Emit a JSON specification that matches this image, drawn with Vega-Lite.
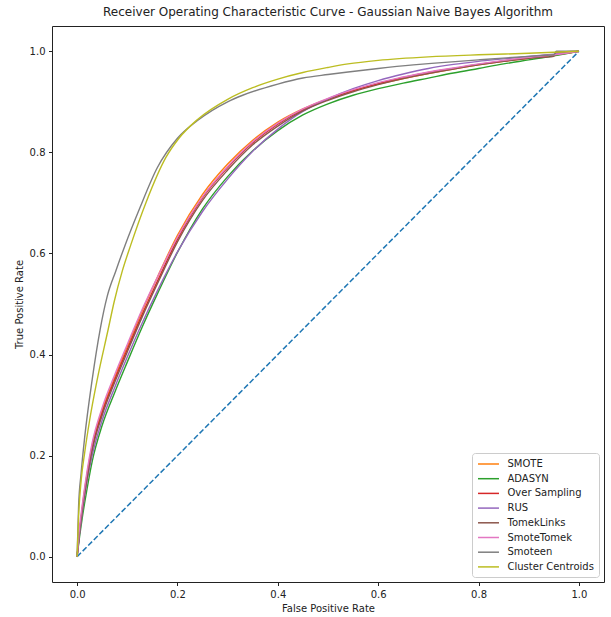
{
  "$schema": "https://vega.github.io/schema/vega-lite/v6.json",
  "autosize": {"type": "none"},
  "padding": {"left": 52, "top": 26, "right": 7, "bottom": 35},
  "width": 552,
  "height": 556,
  "background": "white",
  "config": {
    "font": "DejaVu Sans",
    "view": {"stroke": "#222222", "strokeWidth": 1},
    "axis": {"grid": false, "domain": false, "tickSize": 3.5, "tickColor": "#222222", "labelFontSize": 10, "labelColor": "#222222", "titleFontSize": 10, "titleFontWeight": "normal", "titleColor": "#222222", "labelPadding": 3.5}
  },
  "title": {"text": "Receiver Operating Characteristic Curve - Gaussian Naive Bayes Algorithm", "fontSize": 12, "fontWeight": "normal", "color": "#222222", "offset": 7},
  "layer": [
    {
      "data": {"values": [{"fpr": 0, "tpr": 0}, {"fpr": 1, "tpr": 1}]},
      "mark": {"type": "line", "color": "#1f77b4", "strokeWidth": 1.5, "strokeDash": [5.5, 2.4]},
      "encoding": {
        "x": {"field": "fpr", "type": "quantitative", "scale": {"domain": [-0.05, 1.05], "nice": false, "zero": false}, "axis": {"values": [0, 0.2, 0.4, 0.6, 0.8, 1.0], "format": ".1f", "title": "False Positive Rate", "titlePadding": 4}},
        "y": {"field": "tpr", "type": "quantitative", "scale": {"domain": [-0.05, 1.05], "nice": false, "zero": false}, "axis": {"values": [0, 0.2, 0.4, 0.6, 0.8, 1.0], "format": ".1f", "title": "True Positive Rate", "titlePadding": 5}}
      }
    },
    {
      "data": {"name": "curves"},
      "mark": {"type": "line", "strokeWidth": 1.4, "interpolate": "monotone"},
      "encoding": {
        "x": {"field": "fpr", "type": "quantitative"},
        "y": {"field": "tpr", "type": "quantitative"},
        "order": {"field": "i", "type": "quantitative"},
        "color": {
          "field": "model", "type": "nominal",
          "scale": {"domain": ["SMOTE", "ADASYN", "Over Sampling", "RUS", "TomekLinks", "SmoteTomek", "Smoteen", "Cluster Centroids"], "range": ["#ff7f0e", "#2ca02c", "#d62728", "#9467bd", "#8c564b", "#e377c2", "#7f7f7f", "#bcbd22"]},
          "legend": {"title": null, "orient": "bottom-right", "offset": 5, "padding": 5, "fillColor": "white", "strokeColor": "#cccccc", "cornerRadius": 3, "symbolType": "M-2,0H2", "symbolSize": 110, "symbolOffset": 5.5, "symbolStrokeWidth": 1.5, "labelFontSize": 10, "labelColor": "#222222", "rowPadding": 3.7, "labelOffset": 13}
        }
      }
    }
  ],
  "datasets": {
    "curves": [
      {"model": "SMOTE", "i": 0, "fpr": 0, "tpr": 0},
      {"model": "SMOTE", "i": 1, "fpr": 0.005, "tpr": 0.05},
      {"model": "SMOTE", "i": 2, "fpr": 0.01, "tpr": 0.095},
      {"model": "SMOTE", "i": 3, "fpr": 0.02, "tpr": 0.165},
      {"model": "SMOTE", "i": 4, "fpr": 0.03, "tpr": 0.22},
      {"model": "SMOTE", "i": 5, "fpr": 0.05, "tpr": 0.29},
      {"model": "SMOTE", "i": 6, "fpr": 0.075, "tpr": 0.355},
      {"model": "SMOTE", "i": 7, "fpr": 0.1, "tpr": 0.416},
      {"model": "SMOTE", "i": 8, "fpr": 0.13, "tpr": 0.487},
      {"model": "SMOTE", "i": 9, "fpr": 0.16, "tpr": 0.553},
      {"model": "SMOTE", "i": 10, "fpr": 0.2, "tpr": 0.636},
      {"model": "SMOTE", "i": 11, "fpr": 0.25, "tpr": 0.717},
      {"model": "SMOTE", "i": 12, "fpr": 0.3, "tpr": 0.777},
      {"model": "SMOTE", "i": 13, "fpr": 0.35, "tpr": 0.824},
      {"model": "SMOTE", "i": 14, "fpr": 0.4, "tpr": 0.86},
      {"model": "SMOTE", "i": 15, "fpr": 0.45, "tpr": 0.886},
      {"model": "SMOTE", "i": 16, "fpr": 0.5, "tpr": 0.906},
      {"model": "SMOTE", "i": 17, "fpr": 0.55, "tpr": 0.922},
      {"model": "SMOTE", "i": 18, "fpr": 0.6, "tpr": 0.935},
      {"model": "SMOTE", "i": 19, "fpr": 0.65, "tpr": 0.946},
      {"model": "SMOTE", "i": 20, "fpr": 0.7, "tpr": 0.956},
      {"model": "SMOTE", "i": 21, "fpr": 0.75, "tpr": 0.965},
      {"model": "SMOTE", "i": 22, "fpr": 0.8, "tpr": 0.973},
      {"model": "SMOTE", "i": 23, "fpr": 0.85, "tpr": 0.98},
      {"model": "SMOTE", "i": 24, "fpr": 0.9, "tpr": 0.986},
      {"model": "SMOTE", "i": 25, "fpr": 0.95, "tpr": 0.992},
      {"model": "SMOTE", "i": 26, "fpr": 1, "tpr": 1},

      {"model": "ADASYN", "i": 0, "fpr": 0, "tpr": 0},
      {"model": "ADASYN", "i": 1, "fpr": 0.005, "tpr": 0.04},
      {"model": "ADASYN", "i": 2, "fpr": 0.01, "tpr": 0.075},
      {"model": "ADASYN", "i": 3, "fpr": 0.02, "tpr": 0.135},
      {"model": "ADASYN", "i": 4, "fpr": 0.03, "tpr": 0.188},
      {"model": "ADASYN", "i": 5, "fpr": 0.05, "tpr": 0.26},
      {"model": "ADASYN", "i": 6, "fpr": 0.075, "tpr": 0.325},
      {"model": "ADASYN", "i": 7, "fpr": 0.1, "tpr": 0.385},
      {"model": "ADASYN", "i": 8, "fpr": 0.13, "tpr": 0.455},
      {"model": "ADASYN", "i": 9, "fpr": 0.16, "tpr": 0.52},
      {"model": "ADASYN", "i": 10, "fpr": 0.2, "tpr": 0.602},
      {"model": "ADASYN", "i": 11, "fpr": 0.25, "tpr": 0.688},
      {"model": "ADASYN", "i": 12, "fpr": 0.3, "tpr": 0.752},
      {"model": "ADASYN", "i": 13, "fpr": 0.35, "tpr": 0.803},
      {"model": "ADASYN", "i": 14, "fpr": 0.4, "tpr": 0.843},
      {"model": "ADASYN", "i": 15, "fpr": 0.45, "tpr": 0.874},
      {"model": "ADASYN", "i": 16, "fpr": 0.5, "tpr": 0.896},
      {"model": "ADASYN", "i": 17, "fpr": 0.55, "tpr": 0.913},
      {"model": "ADASYN", "i": 18, "fpr": 0.6, "tpr": 0.926},
      {"model": "ADASYN", "i": 19, "fpr": 0.65, "tpr": 0.937},
      {"model": "ADASYN", "i": 20, "fpr": 0.7, "tpr": 0.947},
      {"model": "ADASYN", "i": 21, "fpr": 0.75, "tpr": 0.957},
      {"model": "ADASYN", "i": 22, "fpr": 0.8, "tpr": 0.966},
      {"model": "ADASYN", "i": 23, "fpr": 0.85, "tpr": 0.975},
      {"model": "ADASYN", "i": 24, "fpr": 0.9, "tpr": 0.983},
      {"model": "ADASYN", "i": 25, "fpr": 0.95, "tpr": 0.991},
      {"model": "ADASYN", "i": 26, "fpr": 1, "tpr": 1},

      {"model": "Over Sampling", "i": 0, "fpr": 0, "tpr": 0},
      {"model": "Over Sampling", "i": 1, "fpr": 0.005, "tpr": 0.05},
      {"model": "Over Sampling", "i": 2, "fpr": 0.01, "tpr": 0.09},
      {"model": "Over Sampling", "i": 3, "fpr": 0.02, "tpr": 0.16},
      {"model": "Over Sampling", "i": 4, "fpr": 0.03, "tpr": 0.215},
      {"model": "Over Sampling", "i": 5, "fpr": 0.05, "tpr": 0.285},
      {"model": "Over Sampling", "i": 6, "fpr": 0.075, "tpr": 0.35},
      {"model": "Over Sampling", "i": 7, "fpr": 0.1, "tpr": 0.41},
      {"model": "Over Sampling", "i": 8, "fpr": 0.13, "tpr": 0.48},
      {"model": "Over Sampling", "i": 9, "fpr": 0.16, "tpr": 0.545},
      {"model": "Over Sampling", "i": 10, "fpr": 0.2, "tpr": 0.628},
      {"model": "Over Sampling", "i": 11, "fpr": 0.25, "tpr": 0.71},
      {"model": "Over Sampling", "i": 12, "fpr": 0.3, "tpr": 0.77},
      {"model": "Over Sampling", "i": 13, "fpr": 0.35, "tpr": 0.819},
      {"model": "Over Sampling", "i": 14, "fpr": 0.4, "tpr": 0.856},
      {"model": "Over Sampling", "i": 15, "fpr": 0.45, "tpr": 0.884},
      {"model": "Over Sampling", "i": 16, "fpr": 0.5, "tpr": 0.905},
      {"model": "Over Sampling", "i": 17, "fpr": 0.55, "tpr": 0.922},
      {"model": "Over Sampling", "i": 18, "fpr": 0.6, "tpr": 0.936},
      {"model": "Over Sampling", "i": 19, "fpr": 0.65, "tpr": 0.948},
      {"model": "Over Sampling", "i": 20, "fpr": 0.7, "tpr": 0.958},
      {"model": "Over Sampling", "i": 21, "fpr": 0.75, "tpr": 0.966},
      {"model": "Over Sampling", "i": 22, "fpr": 0.8, "tpr": 0.974},
      {"model": "Over Sampling", "i": 23, "fpr": 0.85, "tpr": 0.981},
      {"model": "Over Sampling", "i": 24, "fpr": 0.9, "tpr": 0.987},
      {"model": "Over Sampling", "i": 25, "fpr": 0.95, "tpr": 0.993},
      {"model": "Over Sampling", "i": 26, "fpr": 1, "tpr": 1},

      {"model": "RUS", "i": 0, "fpr": 0, "tpr": 0},
      {"model": "RUS", "i": 1, "fpr": 0.005, "tpr": 0.045},
      {"model": "RUS", "i": 2, "fpr": 0.01, "tpr": 0.085},
      {"model": "RUS", "i": 3, "fpr": 0.02, "tpr": 0.15},
      {"model": "RUS", "i": 4, "fpr": 0.03, "tpr": 0.2},
      {"model": "RUS", "i": 5, "fpr": 0.05, "tpr": 0.27},
      {"model": "RUS", "i": 6, "fpr": 0.075, "tpr": 0.335},
      {"model": "RUS", "i": 7, "fpr": 0.1, "tpr": 0.395},
      {"model": "RUS", "i": 8, "fpr": 0.13, "tpr": 0.463},
      {"model": "RUS", "i": 9, "fpr": 0.16, "tpr": 0.526},
      {"model": "RUS", "i": 10, "fpr": 0.2, "tpr": 0.603},
      {"model": "RUS", "i": 11, "fpr": 0.25, "tpr": 0.683},
      {"model": "RUS", "i": 12, "fpr": 0.3, "tpr": 0.747},
      {"model": "RUS", "i": 13, "fpr": 0.35, "tpr": 0.802},
      {"model": "RUS", "i": 14, "fpr": 0.4, "tpr": 0.846},
      {"model": "RUS", "i": 15, "fpr": 0.45, "tpr": 0.881},
      {"model": "RUS", "i": 16, "fpr": 0.5, "tpr": 0.906},
      {"model": "RUS", "i": 17, "fpr": 0.55, "tpr": 0.926},
      {"model": "RUS", "i": 18, "fpr": 0.6, "tpr": 0.942},
      {"model": "RUS", "i": 19, "fpr": 0.65, "tpr": 0.955},
      {"model": "RUS", "i": 20, "fpr": 0.7, "tpr": 0.966},
      {"model": "RUS", "i": 21, "fpr": 0.75, "tpr": 0.974},
      {"model": "RUS", "i": 22, "fpr": 0.8, "tpr": 0.98},
      {"model": "RUS", "i": 23, "fpr": 0.85, "tpr": 0.985},
      {"model": "RUS", "i": 24, "fpr": 0.9, "tpr": 0.99},
      {"model": "RUS", "i": 25, "fpr": 0.95, "tpr": 0.994},
      {"model": "RUS", "i": 26, "fpr": 1, "tpr": 1},

      {"model": "TomekLinks", "i": 0, "fpr": 0, "tpr": 0},
      {"model": "TomekLinks", "i": 1, "fpr": 0.005, "tpr": 0.05},
      {"model": "TomekLinks", "i": 2, "fpr": 0.01, "tpr": 0.09},
      {"model": "TomekLinks", "i": 3, "fpr": 0.02, "tpr": 0.155},
      {"model": "TomekLinks", "i": 4, "fpr": 0.03, "tpr": 0.21},
      {"model": "TomekLinks", "i": 5, "fpr": 0.05, "tpr": 0.28},
      {"model": "TomekLinks", "i": 6, "fpr": 0.075, "tpr": 0.345},
      {"model": "TomekLinks", "i": 7, "fpr": 0.1, "tpr": 0.405},
      {"model": "TomekLinks", "i": 8, "fpr": 0.13, "tpr": 0.475},
      {"model": "TomekLinks", "i": 9, "fpr": 0.16, "tpr": 0.54},
      {"model": "TomekLinks", "i": 10, "fpr": 0.2, "tpr": 0.623},
      {"model": "TomekLinks", "i": 11, "fpr": 0.25, "tpr": 0.705},
      {"model": "TomekLinks", "i": 12, "fpr": 0.3, "tpr": 0.765},
      {"model": "TomekLinks", "i": 13, "fpr": 0.35, "tpr": 0.815},
      {"model": "TomekLinks", "i": 14, "fpr": 0.4, "tpr": 0.852},
      {"model": "TomekLinks", "i": 15, "fpr": 0.45, "tpr": 0.882},
      {"model": "TomekLinks", "i": 16, "fpr": 0.5, "tpr": 0.903},
      {"model": "TomekLinks", "i": 17, "fpr": 0.55, "tpr": 0.92},
      {"model": "TomekLinks", "i": 18, "fpr": 0.6, "tpr": 0.934},
      {"model": "TomekLinks", "i": 19, "fpr": 0.65, "tpr": 0.946},
      {"model": "TomekLinks", "i": 20, "fpr": 0.7, "tpr": 0.956},
      {"model": "TomekLinks", "i": 21, "fpr": 0.75, "tpr": 0.965},
      {"model": "TomekLinks", "i": 22, "fpr": 0.8, "tpr": 0.973},
      {"model": "TomekLinks", "i": 23, "fpr": 0.85, "tpr": 0.98},
      {"model": "TomekLinks", "i": 24, "fpr": 0.9, "tpr": 0.986},
      {"model": "TomekLinks", "i": 25, "fpr": 0.95, "tpr": 0.99},
      {"model": "TomekLinks", "i": 26, "fpr": 0.955, "tpr": 0.998},
      {"model": "TomekLinks", "i": 27, "fpr": 1, "tpr": 1},

      {"model": "SmoteTomek", "i": 0, "fpr": 0, "tpr": 0},
      {"model": "SmoteTomek", "i": 1, "fpr": 0.005, "tpr": 0.06},
      {"model": "SmoteTomek", "i": 2, "fpr": 0.01, "tpr": 0.1},
      {"model": "SmoteTomek", "i": 3, "fpr": 0.02, "tpr": 0.17},
      {"model": "SmoteTomek", "i": 4, "fpr": 0.03, "tpr": 0.225},
      {"model": "SmoteTomek", "i": 5, "fpr": 0.05, "tpr": 0.295},
      {"model": "SmoteTomek", "i": 6, "fpr": 0.075, "tpr": 0.36},
      {"model": "SmoteTomek", "i": 7, "fpr": 0.1, "tpr": 0.42},
      {"model": "SmoteTomek", "i": 8, "fpr": 0.13, "tpr": 0.49},
      {"model": "SmoteTomek", "i": 9, "fpr": 0.16, "tpr": 0.553},
      {"model": "SmoteTomek", "i": 10, "fpr": 0.2, "tpr": 0.632},
      {"model": "SmoteTomek", "i": 11, "fpr": 0.25, "tpr": 0.712},
      {"model": "SmoteTomek", "i": 12, "fpr": 0.3, "tpr": 0.772},
      {"model": "SmoteTomek", "i": 13, "fpr": 0.35, "tpr": 0.821},
      {"model": "SmoteTomek", "i": 14, "fpr": 0.4, "tpr": 0.858},
      {"model": "SmoteTomek", "i": 15, "fpr": 0.45, "tpr": 0.886},
      {"model": "SmoteTomek", "i": 16, "fpr": 0.5, "tpr": 0.907},
      {"model": "SmoteTomek", "i": 17, "fpr": 0.55, "tpr": 0.924},
      {"model": "SmoteTomek", "i": 18, "fpr": 0.6, "tpr": 0.938},
      {"model": "SmoteTomek", "i": 19, "fpr": 0.65, "tpr": 0.949},
      {"model": "SmoteTomek", "i": 20, "fpr": 0.7, "tpr": 0.959},
      {"model": "SmoteTomek", "i": 21, "fpr": 0.75, "tpr": 0.967},
      {"model": "SmoteTomek", "i": 22, "fpr": 0.8, "tpr": 0.975},
      {"model": "SmoteTomek", "i": 23, "fpr": 0.85, "tpr": 0.982},
      {"model": "SmoteTomek", "i": 24, "fpr": 0.9, "tpr": 0.988},
      {"model": "SmoteTomek", "i": 25, "fpr": 0.95, "tpr": 0.993},
      {"model": "SmoteTomek", "i": 26, "fpr": 1, "tpr": 1},

      {"model": "Smoteen", "i": 0, "fpr": 0, "tpr": 0},
      {"model": "Smoteen", "i": 1, "fpr": 0.003, "tpr": 0.1},
      {"model": "Smoteen", "i": 2, "fpr": 0.008, "tpr": 0.165},
      {"model": "Smoteen", "i": 3, "fpr": 0.015, "tpr": 0.235},
      {"model": "Smoteen", "i": 4, "fpr": 0.03, "tpr": 0.35},
      {"model": "Smoteen", "i": 5, "fpr": 0.046, "tpr": 0.45},
      {"model": "Smoteen", "i": 6, "fpr": 0.06, "tpr": 0.515},
      {"model": "Smoteen", "i": 7, "fpr": 0.077, "tpr": 0.565},
      {"model": "Smoteen", "i": 8, "fpr": 0.094, "tpr": 0.612},
      {"model": "Smoteen", "i": 9, "fpr": 0.125, "tpr": 0.69},
      {"model": "Smoteen", "i": 10, "fpr": 0.16, "tpr": 0.77},
      {"model": "Smoteen", "i": 11, "fpr": 0.2, "tpr": 0.828},
      {"model": "Smoteen", "i": 12, "fpr": 0.24, "tpr": 0.863},
      {"model": "Smoteen", "i": 13, "fpr": 0.3, "tpr": 0.9},
      {"model": "Smoteen", "i": 14, "fpr": 0.33, "tpr": 0.913},
      {"model": "Smoteen", "i": 15, "fpr": 0.4, "tpr": 0.935},
      {"model": "Smoteen", "i": 16, "fpr": 0.45, "tpr": 0.947},
      {"model": "Smoteen", "i": 17, "fpr": 0.5, "tpr": 0.954},
      {"model": "Smoteen", "i": 18, "fpr": 0.54, "tpr": 0.959},
      {"model": "Smoteen", "i": 19, "fpr": 0.6, "tpr": 0.966},
      {"model": "Smoteen", "i": 20, "fpr": 0.67, "tpr": 0.973},
      {"model": "Smoteen", "i": 21, "fpr": 0.72, "tpr": 0.977},
      {"model": "Smoteen", "i": 22, "fpr": 0.8, "tpr": 0.983},
      {"model": "Smoteen", "i": 23, "fpr": 0.9, "tpr": 0.99},
      {"model": "Smoteen", "i": 24, "fpr": 0.95, "tpr": 0.993},
      {"model": "Smoteen", "i": 25, "fpr": 0.955, "tpr": 1.0},
      {"model": "Smoteen", "i": 26, "fpr": 1, "tpr": 1},

      {"model": "Cluster Centroids", "i": 0, "fpr": 0, "tpr": 0},
      {"model": "Cluster Centroids", "i": 1, "fpr": 0.003, "tpr": 0.08},
      {"model": "Cluster Centroids", "i": 2, "fpr": 0.008, "tpr": 0.15},
      {"model": "Cluster Centroids", "i": 3, "fpr": 0.015, "tpr": 0.205},
      {"model": "Cluster Centroids", "i": 4, "fpr": 0.025, "tpr": 0.27},
      {"model": "Cluster Centroids", "i": 5, "fpr": 0.04, "tpr": 0.35},
      {"model": "Cluster Centroids", "i": 6, "fpr": 0.062, "tpr": 0.45},
      {"model": "Cluster Centroids", "i": 7, "fpr": 0.074, "tpr": 0.505},
      {"model": "Cluster Centroids", "i": 8, "fpr": 0.09, "tpr": 0.565},
      {"model": "Cluster Centroids", "i": 9, "fpr": 0.107, "tpr": 0.617},
      {"model": "Cluster Centroids", "i": 10, "fpr": 0.137, "tpr": 0.7},
      {"model": "Cluster Centroids", "i": 11, "fpr": 0.177, "tpr": 0.79},
      {"model": "Cluster Centroids", "i": 12, "fpr": 0.203, "tpr": 0.828},
      {"model": "Cluster Centroids", "i": 13, "fpr": 0.24, "tpr": 0.865},
      {"model": "Cluster Centroids", "i": 14, "fpr": 0.3, "tpr": 0.905},
      {"model": "Cluster Centroids", "i": 15, "fpr": 0.35, "tpr": 0.928},
      {"model": "Cluster Centroids", "i": 16, "fpr": 0.4, "tpr": 0.945},
      {"model": "Cluster Centroids", "i": 17, "fpr": 0.45, "tpr": 0.958},
      {"model": "Cluster Centroids", "i": 18, "fpr": 0.5, "tpr": 0.968},
      {"model": "Cluster Centroids", "i": 19, "fpr": 0.54, "tpr": 0.975},
      {"model": "Cluster Centroids", "i": 20, "fpr": 0.6, "tpr": 0.982},
      {"model": "Cluster Centroids", "i": 21, "fpr": 0.7, "tpr": 0.989},
      {"model": "Cluster Centroids", "i": 22, "fpr": 0.8, "tpr": 0.993},
      {"model": "Cluster Centroids", "i": 23, "fpr": 0.9, "tpr": 0.996},
      {"model": "Cluster Centroids", "i": 24, "fpr": 1, "tpr": 1}
    ]
  }
}
